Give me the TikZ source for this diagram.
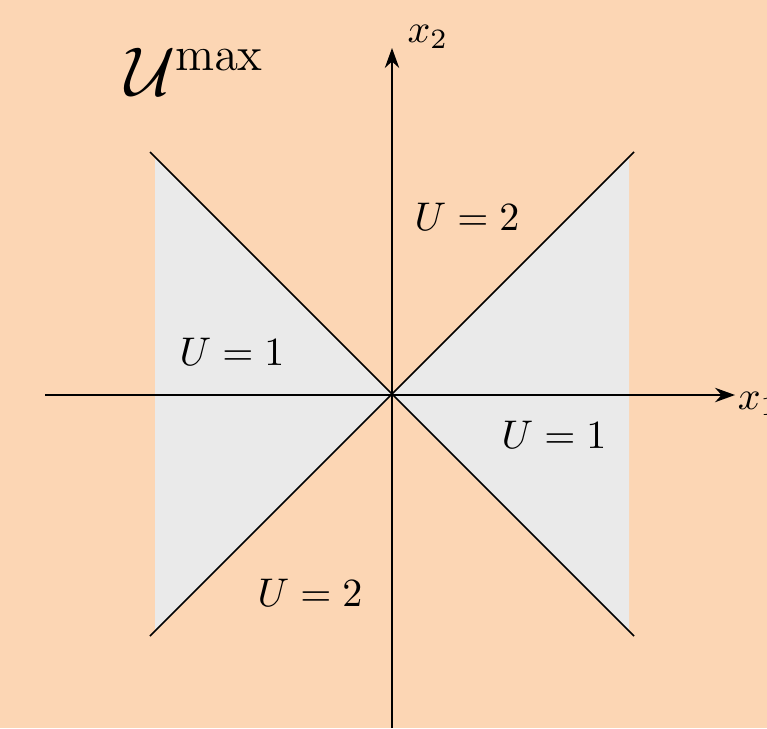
\documentclass[tikz,border=0pt]{standalone}
\usetikzlibrary{arrows.meta}
\definecolor{bgpeach}{RGB}{252,214,180}
\definecolor{regiongray}{RGB}{234,234,234}
\begin{document}
\begin{tikzpicture}[x=0.25pt,y=-0.25pt,
  axis/.style={-{Stealth[length=5pt, width=3.6pt]}, line width=0.4pt},
  diag/.style={line width=0.4pt},
  region/.style={fill=regiongray, draw=none},
  lbl/.style={inner sep=0pt}]
\fill[bgpeach] (0,0) rectangle (767,728);
\useasboundingbox (0,0) rectangle (767,728);
\coordinate (O) at (392,395);
\coordinate (xl) at (45,395);
\coordinate (xr) at (735,395);
\coordinate (yb) at (392,728);
\coordinate (yt) at (392,48);
\coordinate (tl) at (150,152);
\coordinate (br) at (634,636);
\coordinate (tr) at (634,152);
\coordinate (bl) at (150,636);
\fill[region] (155,158) -- (O) -- (155,632) -- cycle;
\fill[region] (629,158) -- (O) -- (629,632) -- cycle;
\draw[diag] (tl) -- (br);
\draw[diag] (tr) -- (bl);
\draw[axis] (xl) -- (xr);
\draw[axis] (yb) -- (yt);
\node[lbl, anchor=west] (x1) at (737,404) {$x_1$};
\node[lbl] (x2) at (428,37) {$x_2$};
\node[lbl] (um) at (195,72) {\LARGE$\mathcal{U}^{\max}$};
\node[lbl] (u2t) at (467,217) {$U=2$};
\node[lbl] (u1l) at (232,352) {$U=1$};
\node[lbl] (u1r) at (554,435) {$U=1$};
\node[lbl] (u2b) at (310,593) {$U=2$};
\end{tikzpicture}
\end{document}
